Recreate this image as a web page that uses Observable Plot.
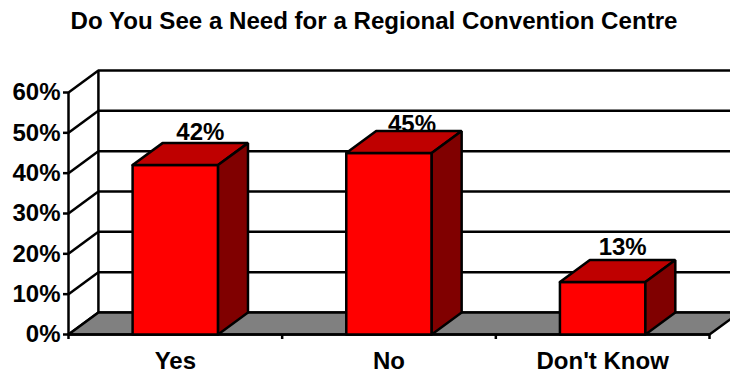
<!DOCTYPE html>
<html>
<head>
<meta charset="utf-8">
<script src="https://cdn.jsdelivr.net/npm/d3@7"></script>
<script src="https://cdn.jsdelivr.net/npm/@observablehq/plot@0.6"></script>
<style>
  html, body { margin: 0; padding: 0; background: #fff; overflow: hidden; }
  #title { height: 44px; width: 730px; box-sizing: border-box; padding: 7px 0 0 18px; text-align: center;
           font: bold 24.1px "Liberation Sans", Arial, sans-serif; line-height: 28px; color: #000; white-space: nowrap; }
  svg { display: block; }
</style>
</head>
<body>
<div id="title">Do You See a Need for a Regional Convention Centre</div>
<div id="chart"></div>
<script>
const categories = ["Yes", "No", "Don't Know"];
const shares = [42, 45, 13];
const percentTicks = [0, 10, 20, 30, 40, 50, 60];
const categoryEdges = [0, 1, 2, 3];

// Oblique projection of the fake 3D box, in scale units
const depthX = 0.14;
const depthY = 5.45;
const barInset = 0.3;
const barThick = 0.4;

// Small nudges that seat each value label above its box
const labelShift = [[25, -25], [23, -21], [20, -27]];

const line = {stroke: "#000", strokeWidth: 2.5, strokeLinejoin: "miter"};

// A closed filled polygon drawn through the x and y scales
const polygon = (pts, fill, id) =>
  Plot.line([...pts, pts[0]].map(([x, y]) => ({x, y, id})),
            {x: "x", y: "y", z: "id", fill, ...line});

const floor = polygon(
  [[0, 0], [depthX, depthY], [3 + depthX, depthY], [3, 0]], "#808080", "floor");

const boxes = categories.flatMap((c, i) => {
  const x0 = i + barInset, x1 = x0 + barThick, v = shares[i];
  return [
    polygon([[x0, 0], [x1, 0], [x1, v], [x0, v]], "#ff0000", c + "front"),
    polygon([[x0, v], [x1, v], [x1 + depthX, v + depthY], [x0 + depthX, v + depthY]], "#bf0000", c + "top"),
    polygon([[x1, 0], [x1 + depthX, depthY], [x1 + depthX, v + depthY], [x1, v]], "#800000", c + "side")
  ];
});

const valueLabels = categories.map((c, i) =>
  Plot.text([i], {
    x: (d) => d + barInset + barThick / 2,
    y: (d) => shares[d],
    text: (d) => shares[d] + "%",
    dx: labelShift[i][0],
    dy: labelShift[i][1],
    lineAnchor: "bottom",
    fontSize: 24,
    fontWeight: "bold",
    fill: "#000"
  })
);

const chart = Plot.plot({
  width: 730,
  height: 329,
  marginLeft: 68,
  marginRight: 21,
  marginTop: 48,
  marginBottom: 39,
  style: {fontFamily: "Liberation Sans, Arial, sans-serif", background: "#fff", color: "#000"},
  x: {type: "linear", domain: [0, 3]},
  y: {type: "linear", domain: [0, 60]},
  marks: [
    // Back wall grid and side wall diagonals
    Plot.ruleY(percentTicks, {x1: depthX, x2: 3 + depthX, y: (d) => d + depthY, ...line}),
    Plot.link(percentTicks, {x1: 0, y1: (d) => d, x2: depthX, y2: (d) => d + depthY, ...line}),
    Plot.ruleX([depthX], {y1: depthY, y2: 60 + depthY, ...line}),
    floor,
    Plot.ruleX([0], {y1: 0, y2: 60, ...line}),
    Plot.ruleY([0], {x1: 0, x2: 3, ...line}),
    ...valueLabels,
    ...boxes,
    Plot.axisY({
      ticks: percentTicks,
      tickFormat: (d) => d + "%",
      tickSize: 5,
      tickPadding: 3,
      label: null,
      fontSize: 24,
      fontWeight: "bold",
      strokeWidth: 2.5,
      stroke: "#000",
      fill: "#000"
    }),
    Plot.axisX({
      ticks: categoryEdges,
      tickFormat: () => "",
      tickSize: 5,
      label: null,
      strokeWidth: 2.5,
      stroke: "#000"
    }),
    Plot.axisX({
      ticks: categories.map((c, i) => i + 0.5),
      tickFormat: (d) => categories[Math.floor(d)],
      tickSize: 0,
      tickPadding: 17,
      label: null,
      fontSize: 24,
      fontWeight: "bold",
      fill: "#000"
    })
  ]
});
document.getElementById("chart").appendChild(chart);
</script>
</body>
</html>
